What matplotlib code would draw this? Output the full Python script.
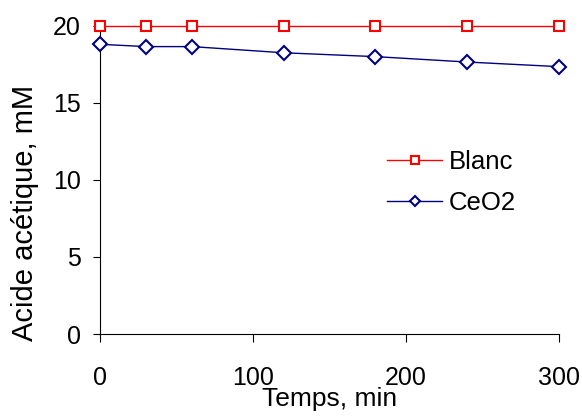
import matplotlib
matplotlib.use('Agg')
import matplotlib.pyplot as plt

temps = [0, 30, 60, 120, 180, 240, 300]
blanc = [20, 20, 20, 20, 20, 20, 20]
ceo2 = [18.8, 18.65, 18.65, 18.25, 18.0, 17.65, 17.35]

plt.rcParams['font.family'] = ['Liberation Sans', 'DejaVu Sans']

fig = plt.figure(figsize=(5.82, 4.16), dpi=100)
ax = fig.add_axes([0.172, 0.197, 0.788, 0.741])

ax.plot(temps, blanc, color='#FF0000', lw=1, marker='s', ms=7.5,
        mfc='white', mec='#FF0000', mew=1.5, label='Blanc', clip_on=False, zorder=3)
ax.plot(temps, ceo2, color='#000080', lw=1, marker='D', ms=7.5,
        mfc='white', mec='#000080', mew=1.5, label='CeO2', clip_on=False, zorder=3)

ax.set_xlim(0, 300)
ax.set_ylim(0, 20)
ax.set_xticks([0, 100, 200, 300])
ax.set_yticks([0, 5, 10, 15, 20])
ax.spines['top'].set_visible(False)
ax.spines['right'].set_visible(False)
ax.tick_params(direction='out', labelsize=18)
ax.tick_params(axis='x', length=6, pad=17)
ax.tick_params(axis='y', length=5, pad=9)
ax.set_xlabel('Temps, min', fontsize=19, labelpad=-2)

# titre de l'axe y centre comme dans l'original
fig.text(25 / 582, 1 - 213 / 416, 'Acide acétique, mM', fontsize=21,
         rotation=90, ha='center', va='center')

ax.legend(loc='center left', bbox_to_anchor=(387 / 582, 1 - 182.5 / 416),
          bbox_transform=fig.transFigure, frameon=False, borderpad=0,
          borderaxespad=0, fontsize=18.5, handlelength=2.15,
          labelspacing=0.65, handletextpad=0.25, markerscale=0.7)

fig.savefig('out.png', dpi=100)
